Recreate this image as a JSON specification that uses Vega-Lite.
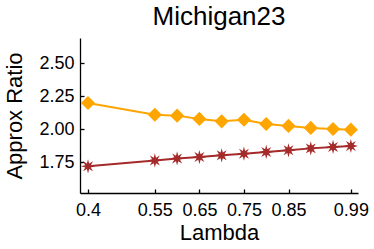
{
  "$schema": "https://vega.github.io/schema/vega-lite/v6.json",
  "autosize": "none",
  "width": 278,
  "height": 155,
  "padding": {"left": 80, "top": 38, "right": 16, "bottom": 56},
  "background": "white",
  "title": {"text": "Michigan23", "fontSize": 26, "font": "Liberation Sans", "fontWeight": "normal", "color": "black", "offset": 8},
  "config": {
    "view": {"stroke": null},
    "font": "Liberation Sans",
    "axis": {
      "grid": false,
      "domainColor": "black",
      "domainWidth": 1.3,
      "tickColor": "black",
      "tickWidth": 1.3,
      "tickSize": -4,
      "labelFont": "Liberation Sans",
      "labelFontSize": 18,
      "labelColor": "black",
      "titleFont": "Liberation Sans",
      "titleFontSize": 22,
      "titleFontWeight": "normal",
      "titleColor": "black"
    }
  },
  "data": {
    "values": [
      {"lambda": 0.4, "ratio": 2.20, "series": "A"},
      {"lambda": 0.55, "ratio": 2.111, "series": "A"},
      {"lambda": 0.6, "ratio": 2.104, "series": "A"},
      {"lambda": 0.65, "ratio": 2.079, "series": "A"},
      {"lambda": 0.7, "ratio": 2.061, "series": "A"},
      {"lambda": 0.75, "ratio": 2.073, "series": "A"},
      {"lambda": 0.8, "ratio": 2.041, "series": "A"},
      {"lambda": 0.85, "ratio": 2.026, "series": "A"},
      {"lambda": 0.9, "ratio": 2.011, "series": "A"},
      {"lambda": 0.95, "ratio": 2.003, "series": "A"},
      {"lambda": 0.99, "ratio": 1.998, "series": "A"},
      {"lambda": 0.4, "ratio": 1.72, "series": "B"},
      {"lambda": 0.55, "ratio": 1.765, "series": "B"},
      {"lambda": 0.6, "ratio": 1.78, "series": "B"},
      {"lambda": 0.65, "ratio": 1.79, "series": "B"},
      {"lambda": 0.7, "ratio": 1.803, "series": "B"},
      {"lambda": 0.75, "ratio": 1.816, "series": "B"},
      {"lambda": 0.8, "ratio": 1.829, "series": "B"},
      {"lambda": 0.85, "ratio": 1.841, "series": "B"},
      {"lambda": 0.9, "ratio": 1.856, "series": "B"},
      {"lambda": 0.95, "ratio": 1.867, "series": "B"},
      {"lambda": 0.99, "ratio": 1.874, "series": "B"}
    ]
  },
  "encoding": {
    "x": {
      "field": "lambda", "type": "quantitative",
      "scale": {"domain": [0.382, 1.006], "nice": false, "zero": false},
      "axis": {"title": "Lambda", "values": [0.4, 0.55, 0.65, 0.75, 0.85, 0.99], "format": ".2~f", "labelPadding": 12, "titlePadding": 3, "labelFlush": false}
    },
    "y": {
      "field": "ratio", "type": "quantitative",
      "scale": {"domain": [1.518, 2.692], "nice": false, "zero": false},
      "axis": {"title": "Approx Ratio", "values": [1.75, 2.0, 2.25, 2.5], "format": ".2f", "labelPadding": 10, "titlePadding": 12}
    },
    "color": {
      "field": "series", "type": "nominal",
      "scale": {"domain": ["A", "B"], "range": ["#FFA500", "#A52A2A"]},
      "legend": null
    }
  },
  "layer": [
    {"mark": {"type": "line", "strokeWidth": 2}},
    {
      "mark": {"type": "point", "filled": true, "opacity": 1},
      "encoding": {
        "shape": {
          "field": "series", "type": "nominal",
          "scale": {"domain": ["A", "B"], "range": ["diamond", "M0,-1L0.16,-0.39L0.707,-0.707L0.39,-0.16L1,0L0.39,0.16L0.707,0.707L0.16,0.39L0,1L-0.16,0.39L-0.707,0.707L-0.39,0.16L-1,0L-0.39,-0.16L-0.707,-0.707L-0.16,-0.39Z"]},
          "legend": null
        },
        "size": {"value": 200}
      }
    }
  ]
}
